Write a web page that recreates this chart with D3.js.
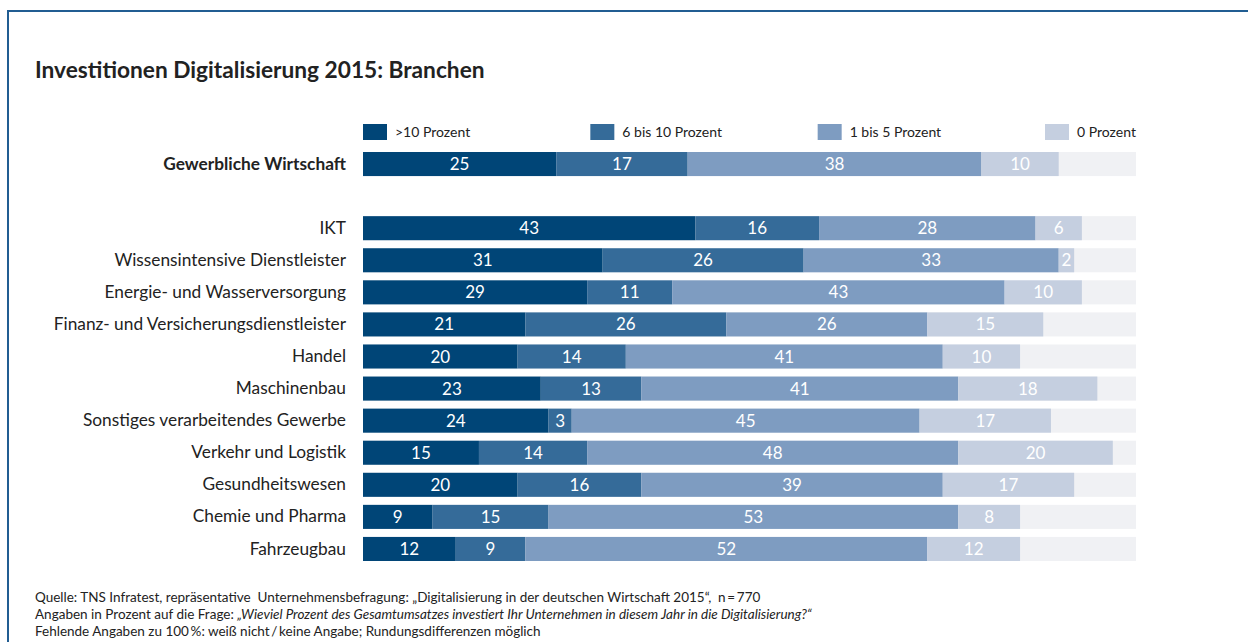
<!DOCTYPE html>
<html><head><meta charset="utf-8">
<script src="https://cdn.jsdelivr.net/npm/d3@7"></script>
<style>
html,body{margin:0;padding:0;background:#fff;}
svg{display:block;font-family:Lato,"Open Sans",sans-serif;}
</style></head>
<body><svg id="chart" width="1248" height="642"></svg>
<script>
const categories = ["Gewerbliche Wirtschaft", "IKT", "Wissensintensive Dienstleister", "Energie- und Wasserversorgung",
  "Finanz- und Versicherungsdienstleister", "Handel", "Maschinenbau", "Sonstiges verarbeitendes Gewerbe",
  "Verkehr und Logistik", "Gesundheitswesen", "Chemie und Pharma", "Fahrzeugbau"];
const seriesNames = [">10 Prozent", "6 bis 10 Prozent", "1 bis 5 Prozent", "0 Prozent"];
const over10 = [25, 43, 31, 29, 21, 20, 23, 24, 15, 20, 9, 12];
const from6to10 = [17, 16, 26, 11, 26, 14, 13, 3, 14, 16, 15, 9];
const from1to5 = [38, 28, 33, 43, 26, 41, 41, 45, 48, 39, 53, 52];
const zero = [10, 6, 2, 10, 15, 10, 18, 17, 20, 17, 8, 12];
const colors = ["#004577", "#356b99", "#7e9cc1", "#c5cfe0"];
const title = "Investitionen Digitalisierung 2015: Branchen";

const svg = d3.select("#chart");
const W = 1248, H = 642;

// frame
svg.append("path").attr("d", `M8,${H} L8,11 L${W},11`).attr("fill", "none")
  .attr("stroke", "#215d92").attr("stroke-width", 2);

svg.append("text").attr("x", 35).attr("y", 78).attr("font-size", 22.7).attr("font-weight", 700)
  .attr("fill", "#222").text(title);

const seriesData = [over10, from6to10, from1to5, zero];
const rows = categories.map((c, i) => {
  const o = {cat: c};
  seriesNames.forEach((s, j) => o[s] = seriesData[j][i]);
  return o;
});
const stack = d3.stack().keys(seriesNames)(rows);

const domain = [categories[0], "__gap__", ...categories.slice(1)];
const y = d3.scaleBand().domain(domain).range([148, 565]).paddingInner(0.25).paddingOuter(0.125);
const x = d3.scaleLinear().domain([0, 100]).range([363, 1136]);

// track
svg.append("g").selectAll("rect").data(categories).join("rect")
  .attr("x", x(0)).attr("width", x(100) - x(0)).attr("y", d => y(d)).attr("height", y.bandwidth())
  .attr("fill", "#f0f1f4");

const g = svg.append("g");
stack.forEach((layer, j) => {
  const lg = g.append("g");
  lg.selectAll("rect").data(layer).join("rect")
    .attr("x", d => x(d[0])).attr("width", d => x(d[1]) - x(d[0]))
    .attr("y", d => y(d.data.cat)).attr("height", y.bandwidth())
    .attr("fill", colors[j]);
  lg.selectAll("text").data(layer).join("text")
    .attr("x", d => (x(d[0]) + x(d[1])) / 2)
    .attr("y", d => y(d.data.cat) + y.bandwidth() / 2 + 6)
    .attr("text-anchor", "middle").attr("font-size", 17).attr("fill", "#fff")
    .text(d => d[1] - d[0]);
});

// category labels
const yAxis = d3.axisLeft(y).tickSize(0).tickPadding(17).tickFormat(d => d === "__gap__" ? "" : d);
const ax = svg.append("g").attr("transform", `translate(${x(0)},0)`).call(yAxis);
ax.select(".domain").remove();
ax.selectAll("text").attr("font-size", 17.3).attr("fill", "#222").attr("font-family", "Lato,sans-serif")
  .attr("font-weight", d => d === categories[0] ? 700 : 400);

// legend
const legendX = d3.scalePoint().domain(seriesNames).range([363, 1045]);
const leg = svg.append("g").selectAll("g").data(seriesNames).join("g")
  .attr("transform", d => `translate(${legendX(d)},124)`);
leg.append("rect").attr("width", 24).attr("height", 16).attr("fill", (d, i) => colors[i]);
leg.append("text").attr("x", 32).attr("y", 13).attr("font-size", 14).attr("fill", "#222").text(d => d);

// footnotes
const fn = svg.append("g").attr("font-size", 13.5).attr("fill", "#222");
fn.append("text").attr("x", 35).attr("y", 602).style("white-space", "pre")
  .text("Quelle: TNS Infratest, repräsentative  Unternehmensbefragung: „Digitalisierung in der deutschen Wirtschaft 2015“,  n\u2009=\u2009770");
const l2 = fn.append("text").attr("x", 35).attr("y", 619);
l2.append("tspan").text("Angaben in Prozent auf die Frage: ");
l2.append("tspan").attr("font-style", "italic").text("„Wieviel Prozent des Gesamtumsatzes investiert Ihr Unternehmen in diesem Jahr in die Digitalisierung?“");
fn.append("text").attr("x", 35).attr("y", 636)
  .text("Fehlende Angaben zu 100\u2009%: weiß nicht\u2009/\u2009keine Angabe; Rundungsdifferenzen möglich");
</script></body></html>
